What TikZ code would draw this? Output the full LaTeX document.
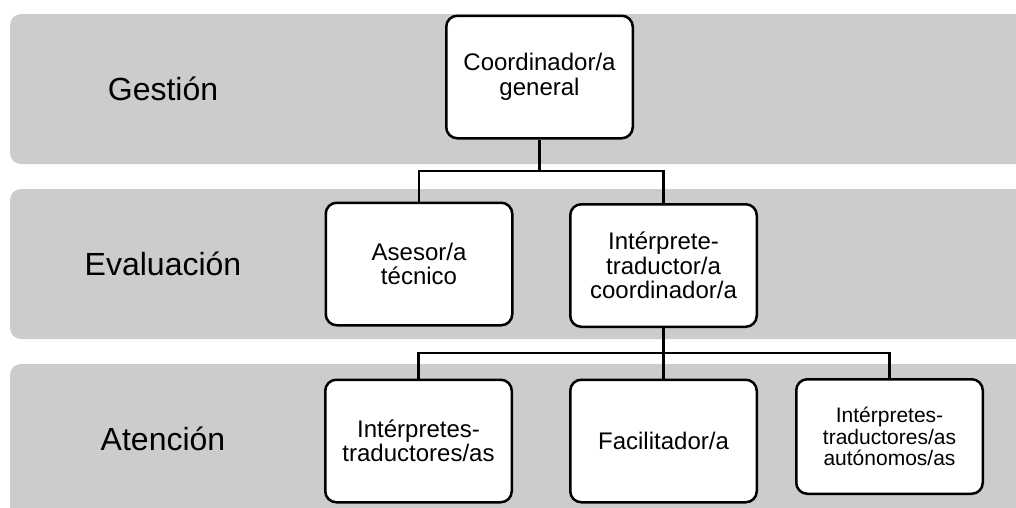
\documentclass[tikz,border=0pt]{standalone}
\usepackage{fontspec}
\setmainfont{Liberation Sans}
\begin{document}
\begin{tikzpicture}[x=1pt,y=-1pt,
  band/.style={fill=black!20, draw=none, rounded corners=11pt},
  bandlabel/.style={font=\fontsize{32}{36}\selectfont, anchor=center},
  rolebox/.style={draw=black, fill=white, line width=2.5pt, rounded corners=11pt,
    align=center, minimum width=186.5pt, minimum height=122.5pt, inner sep=2pt,
    font=\fontsize{24}{24.5}\selectfont},
  smallbox/.style={rolebox, font=\fontsize{21}{21.5}\selectfont},
  link/.style={draw=black, line width=2.5pt}]
\useasboundingbox (0,0) rectangle (1016,507);
\clip (0,0) rectangle (1016,507);
% bands
\fill[band] (10,14) rectangle (1040,164);
\fill[band] (10,189) rectangle (1040,339);
\fill[band] (10,364) rectangle (1040,520);
\node[bandlabel] (lg) at (163,89) {Gestión};
\node[bandlabel] (le) at (163,264) {Evaluación};
\node[bandlabel] (la) at (163,439) {Atención};
% boxes
\node[rolebox] (top) at (539.5,77) {Coordinador/a\\general};
\node[rolebox] (ase) at (419,264) {Asesor/a\\técnico};
\node[rolebox] (itc) at (663.5,265.5) {Intérprete-\\traductor/a\\coordinador/a};
\node[rolebox] (ita) at (418.5,441) {Intérpretes-\\traductores/as};
\node[rolebox] (fac) at (663.5,441) {Facilitador/a};
\node[smallbox, minimum height=114.5pt] (aut) at (889.5,436.5) {Intérpretes-\\traductores/as\\autónomos/as};
% connectors
\coordinate (j1) at (539.5,171);
\coordinate (j2) at (663.5,353);
\draw[link] (top.south) -- (j1);
\draw[link] (j1) -| (ase.north);
\draw[link] (j1) -| (itc.north);
\draw[link] (itc.south) -- (j2);
\draw[link] (j2) -| (ita.north);
\draw[link] (j2) -- (fac.north);
\draw[link] (j2) -| (aut.north);
\end{tikzpicture}
\end{document}
